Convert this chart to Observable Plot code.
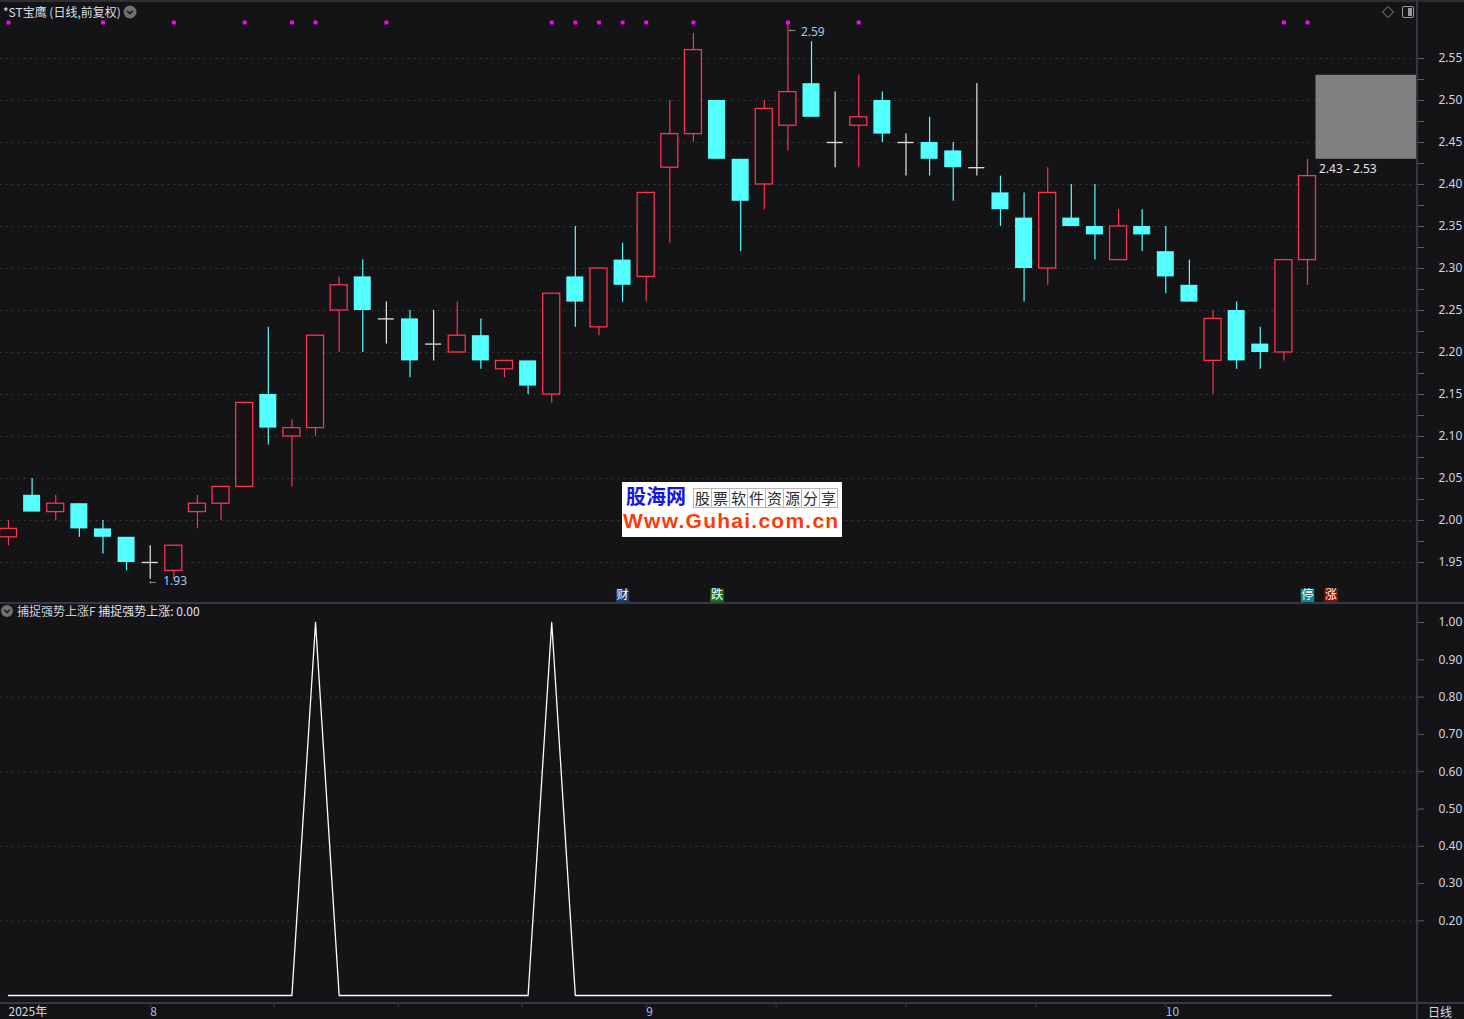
<!DOCTYPE html>
<html>
<head>
<meta charset="utf-8">
<script src="https://cdn.jsdelivr.net/npm/d3@7"></script>
<script src="https://cdn.jsdelivr.net/npm/@observablehq/plot@0.6"></script>
<style>
  html, body { margin: 0; padding: 0; background: #141316; overflow: hidden; }
  #root { position: relative; width: 1464px; height: 1019px; background: #141316; font-family: "Noto Sans CJK SC", "Noto Sans", sans-serif; }
  .abs { position: absolute; }
  .hl { position: absolute; background: #363945; }
  #upper, #lower { position: absolute; left: 0; }
  #upper { top: 0; }
  #lower { top: 603px; }
  svg { overflow: visible; }
  .wmgrid span { display: inline-block; width: 17px; height: 18px; border: 1px solid #b8b8b8; margin-left: -1px; text-align: center; line-height: 18px; font-size: 15px; color: #2a2a2a; font-family: "Noto Sans CJK SC"; }
</style>
</head>
<body>
<div id="root">
  <div class="hl" style="left:0;top:0;width:1464px;height:2px;background:#2e2f35"></div>
  <div id="upper"></div>
  <div id="lower"></div>
  <div class="hl" style="left:0;top:602px;width:1464px;height:2px"></div>
  <div class="hl" style="left:0;top:1002px;width:1464px;height:2px"></div>
  <div class="hl" style="left:1416px;top:0;width:2px;height:1019px"></div>

  <div class="abs" style="left:3px;top:3px;font-size:12px;color:#dcdfe8;white-space:nowrap" id="title"></div>
  <svg class="abs" style="left:123px;top:5px" width="14" height="14"><circle cx="7" cy="7" r="6.5" fill="#707070"/><path d="M4 5.8 L7 8.6 L10 5.8" stroke="#1a1a1a" stroke-width="1.6" fill="none"/></svg>
  <svg class="abs" style="left:1381px;top:5px" width="34" height="15"><path d="M7 1.5 L12.5 7 L7 12.5 L1.5 7 Z" stroke="#8a8a8a" stroke-width="1" fill="none"/><rect x="21.5" y="1.5" width="11" height="11" rx="1.5" stroke="#9a9a9a" fill="none"/><rect x="27" y="3" width="4" height="8" fill="#9a9a9a"/></svg>

  <svg class="abs" style="left:0px;top:604px" width="14" height="14"><circle cx="7" cy="7" r="6" fill="#707070"/><path d="M4.2 5.8 L7 8.4 L9.8 5.8" stroke="#1a1a1a" stroke-width="1.5" fill="none"/></svg>
  <div class="abs" style="left:17px;top:602px;font-size:12px;white-space:nowrap"><span style="color:#cfd2da" id="indname"></span> <span style="color:#dfe6f4" id="indval"></span></div>

  <div class="abs" style="left:1428px;top:1003px;font-size:12px;color:#d8dbe4" id="period"></div>

  <div class="abs" style="left:622px;top:482px;width:220px;height:55px;background:#ffffff;">
    <div class="abs" style="left:4px;top:1px;font:700 20px 'Noto Sans CJK SC';color:#1414e6;letter-spacing:0px;line-height:26px" id="wm1"></div>
    <div class="abs wmgrid" style="left:72px;top:6px;white-space:nowrap;line-height:0" id="wm2"></div>
    <div class="abs" style="left:1px;top:27px;font:700 21px 'Liberation Sans';color:#ff3a0a;letter-spacing:1.25px;line-height:24px" id="wm3"></div>
  </div>
</div>
<script>
// ---------- data ----------
const stockTitle = "*ST宝鹰 (日线,前复权)";
const indicatorName = "捕捉强势上涨F";
const indicatorValue = "捕捉强势上涨: 0.00";
const periodLabel = "日线";

const open  = [1.98,2.03,2.01,2.02,1.99,1.98,1.95,1.94,2.01,2.02,2.04,2.15,2.10,2.11,2.25,2.29,2.24,2.24,2.21,2.20,2.22,2.18,2.19,2.15,2.29,2.23,2.31,2.29,2.42,2.46,2.50,2.43,2.40,2.47,2.52,2.45,2.47,2.50,2.45,2.45,2.44,2.42,2.39,2.36,2.30,2.36,2.35,2.31,2.35,2.32,2.28,2.19,2.25,2.21,2.20,2.31];
const high  = [2.00,2.05,2.03,2.02,2.00,1.98,1.97,1.97,2.03,2.04,2.14,2.23,2.12,2.22,2.29,2.31,2.26,2.25,2.25,2.26,2.24,2.19,2.19,2.27,2.35,2.30,2.33,2.39,2.50,2.58,2.50,2.43,2.50,2.59,2.57,2.51,2.53,2.51,2.46,2.48,2.45,2.52,2.41,2.39,2.42,2.40,2.40,2.37,2.37,2.35,2.31,2.25,2.26,2.23,2.31,2.43];
const low   = [1.97,2.01,2.00,1.98,1.96,1.94,1.93,1.93,1.99,2.00,2.04,2.09,2.04,2.10,2.20,2.20,2.21,2.17,2.19,2.20,2.18,2.17,2.15,2.14,2.23,2.22,2.26,2.26,2.33,2.45,2.43,2.32,2.37,2.44,2.48,2.42,2.42,2.45,2.41,2.41,2.38,2.41,2.35,2.26,2.28,2.35,2.31,2.31,2.32,2.27,2.26,2.15,2.18,2.18,2.19,2.28];
const close = [1.99,2.01,2.02,1.99,1.98,1.95,1.95,1.97,2.02,2.04,2.14,2.11,2.11,2.22,2.28,2.25,2.24,2.19,2.21,2.22,2.19,2.19,2.16,2.27,2.26,2.30,2.28,2.39,2.46,2.56,2.43,2.38,2.49,2.51,2.48,2.45,2.48,2.46,2.45,2.43,2.42,2.42,2.37,2.30,2.39,2.35,2.34,2.35,2.34,2.29,2.26,2.24,2.19,2.20,2.31,2.41];

// indicator 捕捉强势上涨 (one value per bar, incl. the next slot)
const signal = [0,0,0,0,0,0,0,0,0,0,0,0,0,1,0,0,0,0,0,0,0,0,0,1,0,0,0,0,0,0,0,0,0,0,0,0,0,0,0,0,0,0,0,0,0,0,0,0,0,0,0,0,0,0,0,0,0];

// magenta flags along the top
const flagBars = [0,4,7,10,12,13,16,23,24,25,26,27,29,33,36,54,55];

// event boxes along the bottom of the price panel
const eventBars   = [26, 30, 55, 56];
const eventTexts  = ["财", "跌", "停", "涨"];
const eventColors = ["#17406e", "#0b7a1c", "#0b8a8a", "#8a0b0b"];

// price range box
const rangeLow = 2.43, rangeHigh = 2.53;
const minLabelBar = 6, minLabel = 1.93;
const maxLabelBar = 33, maxLabel = 2.59;

const priceTicks = [1.95,2.00,2.05,2.10,2.15,2.20,2.25,2.30,2.35,2.40,2.45,2.50,2.55];
const priceMinorTicks = [1.975,2.025,2.075,2.125,2.175,2.225,2.275,2.325,2.375,2.425,2.475,2.525];
const indTicks = [0.2,0.3,0.4,0.5,0.6,0.7,0.8,0.9,1.0];
const indGrid = [0.2,0.4,0.6,0.8];

const dateLabelBars = [0, 6, 27, 49];
const dateLabelTexts = ["2025年", "8", "9", "10"];
const dateMinorTicks = [6, 11.25, 16.5, 21.75, 27, 32.5, 38, 43.5, 49];

// ---------- styling ----------
const BG = "#141316", RED = "#ff3250", CYAN = "#54ffff", DOJI = "#e4e4e4";
const GRID = "#4a4a4f", TICK = "#5a5e6c", LABEL = "#cfd7e6";
const FONT = "Noto Sans";
const HW = 0.36;              // half body width in bar units
const X = {type: "linear", domain: [0, 55], range: [8, 1307], axis: null, label: null};
const pxPerBar = (1307 - 8) / 55;
const xEdge = 55 + (1417 - 1307) / pxPerBar;

document.getElementById("title").textContent = stockTitle;
document.getElementById("indname").textContent = indicatorName;
document.getElementById("indval").textContent = indicatorValue;
document.getElementById("period").textContent = periodLabel;
document.getElementById("wm1").textContent = "股海网";
document.getElementById("wm2").innerHTML = "股票软件资源分享".split("").map(c => `<span>${c}</span>`).join("");
document.getElementById("wm3").textContent = "Www.Guhai.com.cn";

const bars = open.map((o, i) => ({i, o, h: high[i], l: low[i], c: close[i], top: Math.max(o, close[i]), bot: Math.min(o, close[i])}));
const ups = bars.filter(d => d.c > d.o);
const downs = bars.filter(d => d.c < d.o);
const dojis = bars.filter(d => d.c === d.o);
const events = eventBars.map((i, k) => ({i, t: eventTexts[k], bg: eventColors[k]}));

const upper = Plot.plot({
  width: 1464, height: 603,
  marginTop: 0, marginBottom: 0, marginLeft: 0, marginRight: 47,
  style: {background: "transparent", color: LABEL, fontFamily: FONT, fontSize: "12px"},
  x: X,
  y: {domain: [1.95, 2.55], range: [562, 58], axis: null, label: null},
  marks: [
    Plot.ruleY(priceTicks, {stroke: GRID, strokeDasharray: "1.2,4.8"}),
    Plot.axisY(priceTicks, {anchor: "right", label: null, tickSize: 6, tickPadding: 15, tickFormat: d => d.toFixed(2), stroke: TICK, fill: LABEL, fontSize: 12}),
    Plot.axisY(priceMinorTicks, {anchor: "right", label: null, tickSize: 6, tickFormat: () => "", stroke: TICK}),
    // wicks
    Plot.ruleX(ups, {x: "i", y1: "top", y2: "h", stroke: RED, strokeWidth: 1.2}),
    Plot.ruleX(ups, {x: "i", y1: "bot", y2: "l", stroke: RED, strokeWidth: 1.2}),
    Plot.ruleX(downs, {x: "i", y1: "l", y2: "h", stroke: CYAN, strokeWidth: 1.2}),
    Plot.ruleX(dojis, {x: "i", y1: "l", y2: "h", stroke: DOJI, strokeWidth: 1.2}),
    // bodies
    Plot.rect(ups, {x1: d => d.i - HW, x2: d => d.i + HW, y1: "o", y2: "c", fill: BG, stroke: RED, strokeWidth: 1.3}),
    Plot.rect(downs, {x1: d => d.i - HW, x2: d => d.i + HW, y1: "o", y2: "c", fill: CYAN}),
    Plot.ruleY(dojis, {y: "o", x1: d => d.i - 0.34, x2: d => d.i + 0.34, stroke: DOJI, strokeWidth: 1.3}),
    // range box
    Plot.rect([{a: rangeLow, b: rangeHigh}], {x1: 55 + HW, x2: xEdge, y1: "a", y2: "b", fill: "#808080"}),
    Plot.text([{a: rangeLow, b: rangeHigh}], {x: 55 + HW, y: "a", dx: 3, dy: 10, text: d => `${d.a.toFixed(2)} - ${d.b.toFixed(2)}`, textAnchor: "start", fill: "#e2e7f0", fontSize: 12}),
    // min / max labels
    Plot.text([minLabel], {x: minLabelBar, y: d => d, dx: -3, dy: 1, text: () => "←", textAnchor: "start", fill: "#d0d0d0", fontSize: 11}),
    Plot.text([minLabel], {x: minLabelBar, y: d => d, dx: 13, dy: 2, text: d => d.toFixed(2), textAnchor: "start", fill: "#a9c6ea", fontSize: 12}),
    Plot.text([maxLabel], {x: maxLabelBar, y: d => d, dx: -1, dy: 4, text: () => "←", textAnchor: "start", fill: "#d0d0d0", fontSize: 11}),
    Plot.text([maxLabel], {x: maxLabelBar, y: d => d, dx: 13, dy: 7, text: d => d.toFixed(2), textAnchor: "start", fill: "#a9c6ea", fontSize: 12}),
    // flags
    Plot.dot(flagBars, {x: d => d, frameAnchor: "top", dy: 22, symbol: "square", r: 2.2, fill: "#ff00ff", stroke: null}),
    // events
    Plot.dot(events, {x: "i", frameAnchor: "bottom", dy: -8, symbol: "square", r: 7.6, fill: "bg", stroke: null}),
    Plot.text(events, {x: "i", frameAnchor: "bottom", lineAnchor: "middle", dy: -8, text: "t", fill: "#ffffff", fontSize: 12, fontFamily: "Noto Sans CJK SC"})
  ]
});
document.getElementById("upper").appendChild(upper);

const lower = Plot.plot({
  width: 1464, height: 416,
  marginTop: 0, marginBottom: 16, marginLeft: 0, marginRight: 47,
  style: {background: "transparent", color: LABEL, fontFamily: FONT, fontSize: "12px"},
  x: X,
  y: {domain: [0, 1], range: [392, 19], axis: null, label: null},
  marks: [
    Plot.ruleY(indGrid, {stroke: GRID, strokeDasharray: "1.2,4.8"}),
    Plot.axisY(indTicks, {anchor: "right", label: null, tickSize: 6, tickPadding: 15, tickFormat: d => d.toFixed(2), stroke: TICK, fill: LABEL, fontSize: 12}),
    Plot.line(signal, {x: (d, i) => i, y: d => d, stroke: "#ffffff", strokeWidth: 1.3}),
    Plot.axisX(dateMinorTicks, {anchor: "bottom", label: null, tickSize: 4, tickFormat: () => "", stroke: "#3c3f4c"}),
    Plot.text(dateLabelBars.map((i, k) => ({i, t: dateLabelTexts[k]})), {x: "i", frameAnchor: "bottom", lineAnchor: "middle", dy: 9, dx: 0, text: "t", textAnchor: "start", fill: (d) => d.i === 0 ? "#d6d9e2" : "#9cc2f0", fontSize: 12, fontFamily: "Noto Sans CJK SC"})
  ]
});
document.getElementById("lower").appendChild(lower);
</script>
</body>
</html>
